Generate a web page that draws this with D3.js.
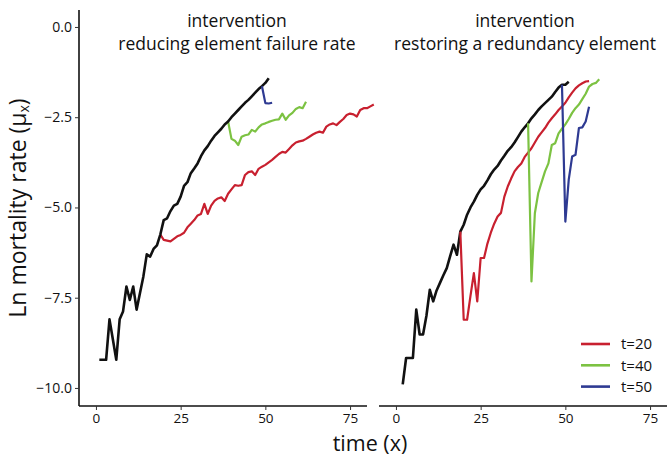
<!DOCTYPE html>
<html><head><meta charset="utf-8">
<script src="https://cdn.jsdelivr.net/npm/d3@7"></script>
<style>body{margin:0;background:#fff}svg{display:block}text{font-family:"Open Sans",sans-serif;fill:#111}</style>
</head><body>
<script>
// ---- data ----
const panelTitles = [["intervention","reducing element failure rate"],["intervention","restoring a redundancy element"]];
const xTicks = [0,25,50,75];
const yTicks = [0,-2.5,-5,-7.5,-10];
const legendLabels = ["t=20","t=40","t=50"];
const colors = {black:"#111111", red:"#C8202F", green:"#7CC242", blue:"#2E3A92"};

// left panel (reducing element failure rate)
const L_blackX = d3.range(1,52);
const L_blackY = [-9.22,-9.22,-9.22,-8.1,-8.66,-9.22,-8.1,-7.88,-7.19,-7.56,-7.19,-7.83,-7.37,-6.91,-6.3,-6.36,-6.15,-6.05,-5.75,-5.35,-5.3,-5.1,-4.95,-4.9,-4.7,-4.4,-4.3,-4.05,-3.92,-3.78,-3.58,-3.42,-3.3,-3.15,-3.02,-2.92,-2.82,-2.7,-2.62,-2.5,-2.4,-2.3,-2.2,-2.1,-2.02,-1.92,-1.82,-1.72,-1.64,-1.55,-1.42];
const L_redX = d3.range(19,83);
const L_redY = [-5.75,-5.9,-5.92,-5.94,-5.87,-5.8,-5.76,-5.7,-5.55,-5.45,-5.35,-5.22,-5.18,-4.9,-5.18,-4.95,-4.82,-4.75,-4.72,-4.82,-4.62,-4.5,-4.38,-4.4,-4.38,-4.1,-4.02,-4.0,-4.1,-3.93,-3.87,-3.82,-3.75,-3.68,-3.6,-3.52,-3.46,-3.48,-3.38,-3.28,-3.2,-3.17,-3.15,-3.1,-3.04,-2.98,-2.93,-2.9,-2.93,-2.76,-2.7,-2.67,-2.72,-2.63,-2.55,-2.44,-2.4,-2.42,-2.48,-2.3,-2.25,-2.25,-2.2,-2.15];
const L_greenX = d3.range(39,63);
const L_greenY = [-2.62,-3.1,-3.15,-3.27,-3.04,-3.0,-2.98,-2.85,-2.9,-2.78,-2.7,-2.67,-2.63,-2.6,-2.57,-2.56,-2.4,-2.57,-2.45,-2.38,-2.27,-2.22,-2.25,-2.07];
const L_blueX = [49,50,51,52];
const L_blueY = [-1.64,-2.11,-2.12,-2.1];

// right panel (restoring a redundancy element)
const R_blackX = d3.range(2,52);
const R_blackY = [-9.9,-9.17,-9.17,-9.17,-7.83,-8.52,-8.52,-8.0,-7.28,-7.6,-7.3,-7.09,-6.88,-6.68,-6.35,-6.03,-6.31,-5.67,-5.48,-5.2,-5.0,-4.84,-4.65,-4.5,-4.4,-4.25,-4.08,-3.95,-3.85,-3.7,-3.57,-3.43,-3.33,-3.2,-3.05,-2.9,-2.78,-2.67,-2.53,-2.42,-2.3,-2.2,-2.11,-2.02,-1.93,-1.8,-1.68,-1.6,-1.6,-1.52];
const R_redX = d3.range(19,58);
const R_redY = [-5.67,-8.11,-8.11,-7.45,-6.82,-7.6,-6.4,-6.4,-6.0,-5.7,-5.45,-5.25,-5.15,-4.7,-4.42,-4.2,-4.0,-3.88,-3.78,-3.6,-3.48,-3.36,-3.2,-3.04,-2.92,-2.8,-2.65,-2.53,-2.42,-2.3,-2.2,-2.1,-1.95,-1.82,-1.7,-1.62,-1.56,-1.51,-1.5];
const R_greenX = d3.range(39,61);
const R_greenY = [-2.67,-7.05,-5.16,-4.6,-4.3,-4.0,-3.78,-3.27,-3.22,-2.95,-2.82,-2.7,-2.55,-2.38,-2.25,-2.15,-2.0,-1.85,-1.65,-1.58,-1.55,-1.45];
const R_blueX = d3.range(49,58);
const R_blueY = [-1.6,-5.39,-4.23,-3.59,-3.54,-2.8,-2.78,-2.62,-2.21];

// ---- drawing ----
const W=667,H=457;
const svg = d3.select("body").append("svg").attr("width",W).attr("height",H);
const y = d3.scaleLinear().domain([-10.5,0.47]).range([406,10]);
const xL = d3.scaleLinear().domain([-5,80]).range([79,367]);
const xR = d3.scaleLinear().domain([-5,80]).range([379,667]);

function zip(xs,ys){return xs.map((v,i)=>[v,ys[i]]);}
function drawLine(x, xs, ys, col, w){
  const line = d3.line().x(d=>x(d[0])).y(d=>y(d[1]));
  svg.append("path").attr("d",line(zip(xs,ys))).attr("fill","none")
    .attr("stroke",col).attr("stroke-width",w).attr("stroke-linejoin","round").attr("stroke-linecap","butt");
}

// axes
function xAxis(x){
  const g = svg.append("g").attr("transform","translate(0,406)")
    .call(d3.axisBottom(x).tickValues(xTicks).tickSize(4).tickPadding(3).tickFormat(d3.format("d")));
  g.select(".domain").attr("stroke","#111").attr("stroke-width",1.6).attr("d",`M${x.range()[0]},0H${x.range()[1]}`);
  g.selectAll(".tick line").attr("stroke","#333").attr("stroke-width",1);
  g.selectAll(".tick text").style("font-size","13.5px").style("font-family","'Open Sans',sans-serif").attr("fill","#111");
}
xAxis(xL); xAxis(xR);
const gy = svg.append("g").attr("transform","translate(79,0)")
  .call(d3.axisLeft(y).tickValues(yTicks).tickSize(4).tickPadding(3).tickFormat(d=>d3.format(".1f")(d).replace("-","\u2212")));
gy.select(".domain").attr("stroke","#111").attr("stroke-width",1.6).attr("d","M0,10V406");
gy.selectAll(".tick line").attr("stroke","#333").attr("stroke-width",1);
gy.selectAll(".tick text").style("font-size","14px").style("font-family","'Open Sans',sans-serif").attr("fill","#111");

// lines
drawLine(xL,L_redX,L_redY,colors.red,2.2);
drawLine(xL,L_greenX,L_greenY,colors.green,2.2);
drawLine(xL,L_blackX,L_blackY,colors.black,2.6);
drawLine(xL,L_blueX,L_blueY,colors.blue,2.2);

drawLine(xR,R_blackX,R_blackY,colors.black,2.6);
drawLine(xR,R_redX,R_redY,colors.red,2.2);
drawLine(xR,R_greenX,R_greenY,colors.green,2.2);
drawLine(xR,R_blueX,R_blueY,colors.blue,2.2);

// panel titles
[[237,panelTitles[0]],[525,panelTitles[1]]].forEach(([cx,lines])=>{
  lines.forEach((t,i)=>svg.append("text").attr("x",cx).attr("y",27+i*23)
    .attr("text-anchor","middle").style("font-size","17.5px").text(t));
});

// legend
const legCols=[colors.red,colors.green,colors.blue];
legendLabels.forEach((t,i)=>{
  const yy = 344 + i*21.3;
  svg.append("line").attr("x1",581).attr("x2",610).attr("y1",yy).attr("y2",yy)
    .attr("stroke",legCols[i]).attr("stroke-width",2.6);
  svg.append("text").attr("x",621).attr("y",yy).attr("dy","0.35em").style("font-size","15px").text(t);
});

// axis titles
svg.append("text").attr("x",370).attr("y",450.5).attr("text-anchor","middle").style("font-size","21.5px").text("time (x)");
const yt = svg.append("text").attr("transform","translate(26,208) rotate(-90)").attr("text-anchor","middle").style("font-size","23px");
yt.append("tspan").text("Ln mortality rate (\u03bc");
yt.append("tspan").text("x").style("font-size","14px").attr("dy","3");
yt.append("tspan").text(")").attr("dy","-3");
</script>
</body></html>
